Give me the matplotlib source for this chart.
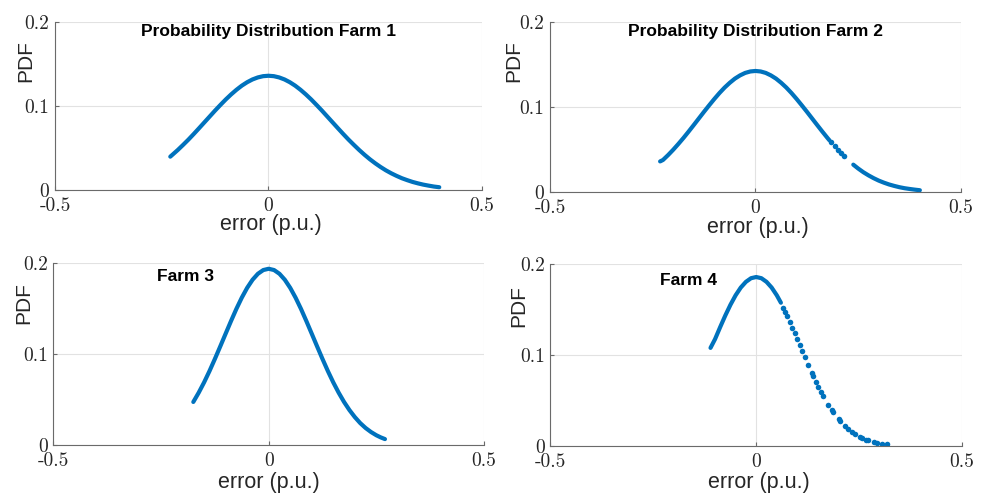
import matplotlib
matplotlib.use("Agg")
import matplotlib.pyplot as plt

nan = float("nan")

# values (error in p.u., PDF)
farm1_x = [-0.23, -0.2125, -0.2, -0.1875, -0.175, -0.1625, -0.15, -0.1375, -0.125, -0.1125,
           -0.1, -0.0875, -0.075, -0.0625, -0.05, -0.0375, -0.025, -0.0125, 0.0,
           0.0125, 0.025, 0.0375, 0.05, 0.0625, 0.075, 0.0875, 0.1, 0.1125, 0.125,
           0.1375, 0.15, 0.1625, 0.175, 0.1875, 0.2, 0.2125, 0.225, 0.2375, 0.25,
           0.2625, 0.275, 0.2875, 0.3, 0.3125, 0.325, 0.3375, 0.35, 0.3625, 0.375,
           0.3875, 0.4]
farm1_y = [0.0397, 0.0476, 0.0537, 0.0600, 0.0667, 0.0736, 0.0806, 0.0876, 0.0946, 0.1013,
           0.1078, 0.1138, 0.1193, 0.1242, 0.1283, 0.1316, 0.1340, 0.1355, 0.136,
           0.1355, 0.1340, 0.1316, 0.1283, 0.1242, 0.1193, 0.1138, 0.1078, 0.1013, 0.0946,
           0.0876, 0.0806, 0.0736, 0.0667, 0.0600, 0.0537, 0.0476, 0.0419, 0.0366, 0.0318,
           0.0274, 0.0234, 0.0199, 0.0168, 0.0140, 0.0117, 0.0096, 0.0079, 0.0064, 0.0052,
           0.0041, 0.0033]
farm1_dot_x = []
farm1_dot_y = []

farm2_x = [-0.232, -0.225, -0.2125, -0.2, -0.1875, -0.175, -0.1625, -0.15, -0.1375, -0.125,
           -0.1125, -0.1, -0.0875, -0.075, -0.0625, -0.05, -0.0375, -0.025, -0.0125, 0.0,
           0.0125, 0.025, 0.0375, 0.05, 0.0625, 0.075, 0.0875, 0.1, 0.1125, 0.125,
           0.1375, 0.15, 0.1625, 0.175, 0.18, nan,
           0.238, 0.25, 0.2625, 0.275, 0.2875, 0.3, 0.3125, 0.325, 0.3375, 0.35,
           0.3625, 0.375, 0.3875, 0.4]
farm2_y = [0.036, 0.0377, 0.0435, 0.0498, 0.0566, 0.0637, 0.0712, 0.0789, 0.0867, 0.0945,
           0.1021, 0.1095, 0.1165, 0.1229, 0.1285, 0.1334, 0.1372, 0.1401, 0.1418, 0.1424,
           0.1418, 0.1401, 0.1372, 0.1334, 0.1285, 0.1229, 0.1165, 0.1095, 0.1021, 0.0945,
           0.0867, 0.0789, 0.0712, 0.0637, 0.0608, nan,
           0.0322, 0.0276, 0.0233, 0.0196, 0.0163, 0.0134, 0.0110, 0.0089, 0.0072, 0.0057,
           0.0045, 0.0036, 0.0028, 0.0021]
farm2_dot_x = [0.183, 0.193, 0.201, 0.208, 0.215]
farm2_dot_y = [0.0591, 0.0536, 0.0493, 0.0458, 0.0423]

farm3_x = [-0.175, -0.1625, -0.15, -0.1375, -0.125, -0.1125, -0.1, -0.0875, -0.075, -0.0625,
           -0.05, -0.0375, -0.025, -0.0125, 0.0, 0.0125, 0.025, 0.0375, 0.05, 0.0625,
           0.075, 0.0875, 0.1, 0.1125, 0.125, 0.1375, 0.15, 0.1625, 0.175, 0.1875,
           0.2, 0.2125, 0.225, 0.2375, 0.25, 0.26, 0.27]
farm3_y = [0.0476, 0.0578, 0.0691, 0.0815, 0.0948, 0.1086, 0.1226, 0.1365, 0.1499, 0.1622,
           0.1730, 0.1819, 0.1885, 0.1926, 0.194, 0.1926, 0.1885, 0.1819, 0.1730, 0.1622,
           0.1499, 0.1365, 0.1226, 0.1086, 0.0948, 0.0815, 0.0691, 0.0578, 0.0476, 0.0387,
           0.0310, 0.0244, 0.0190, 0.0146, 0.0110, 0.0087, 0.0068]
farm3_dot_x = []
farm3_dot_y = []

farm4_x = [-0.111, -0.1, -0.0875, -0.075, -0.0625, -0.05, -0.0375, -0.025, -0.0125, 0.0,
           0.0125, 0.025, 0.0375, 0.05, 0.06]
farm4_y = [0.108, 0.1176, 0.1309, 0.1437, 0.1555, 0.1659, 0.1744, 0.1807, 0.1847, 0.186,
           0.1847, 0.1807, 0.1744, 0.1659, 0.1577]
farm4_dot_x = [0.066, 0.071, 0.076, 0.082, 0.088, 0.094, 0.1, 0.106, 0.112, 0.118,
               0.127, 0.135, 0.139, 0.145, 0.151, 0.157, 0.163, 0.175, 0.184, 0.187,
               0.2, 0.204, 0.216, 0.224, 0.232, 0.24, 0.252, 0.256, 0.267, 0.272,
               0.285, 0.293, 0.305, 0.317]
farm4_dot_y = [0.1523, 0.1476, 0.1427, 0.1366, 0.1304, 0.1240, 0.1176, 0.1111, 0.1046, 0.0982,
               0.0888, 0.0806, 0.0767, 0.0709, 0.0654, 0.0600, 0.0550, 0.0456, 0.0394, 0.0374,
               0.0297, 0.0276, 0.0219, 0.0186, 0.0158, 0.0132, 0.0101, 0.0092, 0.0071, 0.0062,
               0.0045, 0.0036, 0.0026, 0.0019]

titles = ["Probability Distribution Farm 1", "Probability Distribution Farm 2",
          "Farm 3", "Farm 4"]

blue = "#0072BD"
sans = "Liberation Sans"

fig = plt.figure(figsize=(9.84, 4.93), dpi=100)

# [left, bottom, width, height] in figure fractions, plus title/label placement
panels = [
    ([0.0559, 0.6146, 0.4339, 0.3408], (0.0, 0.189), (-0.068, 0.768), (0.505, -0.205)),
    ([0.5589, 0.6105, 0.4177, 0.3449], (0.0, 0.189), (-0.088, 0.771), (0.505, -0.207)),
    ([0.0542, 0.0968, 0.4377, 0.3691], (-0.194, 0.186), (-0.069, 0.779), (0.501, -0.205)),
    ([0.5593, 0.0953, 0.4184, 0.3686], (-0.165, 0.182), (-0.077, 0.770), (0.506, -0.203)),
]
lines = [(farm1_x, farm1_y, farm1_dot_x, farm1_dot_y),
         (farm2_x, farm2_y, farm2_dot_x, farm2_dot_y),
         (farm3_x, farm3_y, farm3_dot_x, farm3_dot_y),
         (farm4_x, farm4_y, farm4_dot_x, farm4_dot_y)]

for (rect, tpos, ylab, xlab), (x, y, dx, dy), title in zip(panels, lines, titles):
    ax = fig.add_axes(rect)
    ax.plot(x, y, color=blue, lw=3.0, solid_capstyle="round", solid_joinstyle="round")
    if dx:
        ax.plot(dx, dy, "o", color=blue, ms=4.0, mew=0)

    ax.set_xlim(-0.5, 0.5)
    ax.set_ylim(0, 0.2)
    for side in ("top", "right"):
        ax.spines[side].set_visible(False)
    for side in ("left", "bottom"):
        ax.spines[side].set_color("#6a6a6a")
        ax.spines[side].set_linewidth(0.8)

    ax.set_xticks([-0.5, 0, 0.5], labels=["-0.5", "0", "0.5"])
    ax.set_yticks([0, 0.1, 0.2], labels=["0", "0.1", "0.2"])
    for lab in ax.get_xticklabels() + ax.get_yticklabels():
        lab.set_fontfamily("cmr10")
        lab.set_fontsize(14)
        lab.set_color("#262626")
    ax.tick_params(direction="in", length=3, color="#6a6a6a", width=0.8)
    ax.tick_params(axis="x", pad=5)
    ax.tick_params(axis="y", pad=4)
    ax.grid(True, color="#e2e2e2", lw=0.8)
    ax.set_axisbelow(True)

    ax.set_ylabel("PDF", family=sans, fontsize=15, color="#262626")
    ax.yaxis.label.set_va("center")
    ax.yaxis.set_label_coords(*ylab)
    ax.set_xlabel("error (p.u.)", family=sans, fontsize=15.5, color="#262626")
    ax.xaxis.label.set_va("center")
    ax.xaxis.set_label_coords(*xlab)

    ax.text(tpos[0], tpos[1], title, ha="center", va="center",
            family=sans, fontweight="bold", fontsize=12.5)

fig.savefig("out.png", dpi=100)
